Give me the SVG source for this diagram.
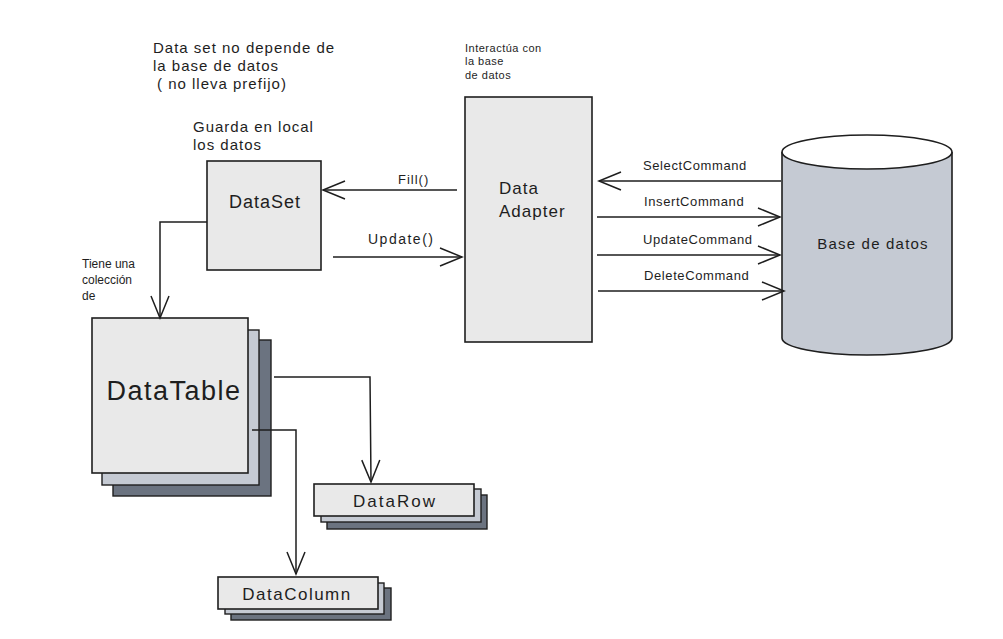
<svg xmlns="http://www.w3.org/2000/svg" width="1003" height="639" viewBox="0 0 1003 639">
<style>
.box{fill:#e9e9e9;stroke:#1e1e1e;stroke-width:1.6}
.mid{fill:#c5cad3;stroke:#1e1e1e;stroke-width:1.4}
.dark{fill:#6b7380;stroke:#1e1e1e;stroke-width:1.4}
.cyl{fill:#c5cad3;stroke:#1e1e1e;stroke-width:1.6}
.ln{fill:none;stroke:#1e1e1e;stroke-width:1.5}
text{font-family:"Liberation Sans","DejaVu Sans",sans-serif;fill:#1e1e1e}
.t15{font-size:15px;letter-spacing:1px}
.t10{font-size:11px;letter-spacing:0.5px}
.t12{font-size:12px}
.t13{font-size:13px;letter-spacing:0.6px}
.t17{font-size:17px;letter-spacing:1px}
</style>
<defs>
<marker id="arr" markerUnits="userSpaceOnUse" markerWidth="30" markerHeight="24" viewBox="-25 -12 30 24" refX="0" refY="0" orient="auto">
<path d="M-22,-9 L0,0 L-22,9" fill="none" stroke="#1e1e1e" stroke-width="1.5"/>
</marker>
</defs>
<rect width="1003" height="639" fill="#ffffff"/>

<g id="notes">
<text class="t15" x="153" y="53">Data set no depende de</text>
<text class="t15" x="153" y="71">la base de datos</text>
<text class="t15" x="157" y="89">( no lleva prefijo)</text>
<text class="t10" x="465" y="52">Interactúa con</text>
<text class="t10" x="465" y="65">la base</text>
<text class="t10" x="465" y="79">de datos</text>
<text class="t15" x="193" y="132">Guarda en local</text>
<text class="t15" x="193" y="150">los datos</text>
<text class="t12" x="82" y="268">Tiene una</text>
<text class="t12" x="82" y="284">colección</text>
<text class="t12" x="82" y="300">de</text>
</g>

<g id="dataset">
<rect class="box" x="207" y="161" width="114" height="109"/>
<text x="265" y="208" font-size="18" letter-spacing="1" text-anchor="middle">DataSet</text>
</g>

<g id="dataadapter">
<rect class="box" x="465" y="97" width="127" height="245"/>
<text class="t17" x="499" y="194">Data</text>
<text class="t17" x="499" y="217">Adapter</text>
</g>

<g id="basededatos">
<path class="cyl" d="M782,152 L782,338 A85,17 0 0 0 952,338 L952,152"/>
<ellipse cx="867" cy="152" rx="85" ry="17" fill="#ffffff" stroke="#1e1e1e" stroke-width="1.6"/>
<text x="873" y="249" font-size="15" letter-spacing="1.2" text-anchor="middle">Base de datos</text>
</g>

<g id="datatable">
<rect class="dark" x="113" y="340" width="158" height="156"/>
<rect class="mid" x="102" y="330" width="157" height="155"/>
<rect class="box" x="92" y="318" width="156" height="155"/>
<text x="174" y="400" font-size="27" letter-spacing="1.5" text-anchor="middle">DataTable</text>
</g>

<g id="datarow">
<rect class="dark" x="327" y="495" width="160" height="34"/>
<rect class="mid" x="321" y="489" width="160" height="33"/>
<rect class="box" x="314" y="484" width="160" height="32"/>
<text x="395" y="507" font-size="17" letter-spacing="2" text-anchor="middle">DataRow</text>
</g>

<g id="datacolumn">
<rect class="dark" x="231" y="588" width="160" height="32"/>
<rect class="mid" x="225" y="583" width="159" height="31"/>
<rect class="box" x="218" y="577" width="160" height="32"/>
<text x="297" y="600" font-size="17" letter-spacing="1.5" text-anchor="middle">DataColumn</text>
</g>

<g id="connectors">
<path class="ln" d="M207,222 L160,222 L160,318" marker-end="url(#arr)"/>
<path class="ln" d="M274,377 L370,377 L371,482" marker-end="url(#arr)"/>
<path class="ln" d="M252,430 L296,430 L296,574" marker-end="url(#arr)"/>
<path class="ln" d="M457,190 L323,190" marker-end="url(#arr)"/>
<path class="ln" d="M333,257 L462,257" marker-end="url(#arr)"/>
<path class="ln" d="M781,181 L599,181" marker-end="url(#arr)"/>
<path class="ln" d="M597,217 L780,217" marker-end="url(#arr)"/>
<path class="ln" d="M597,255 L780,255" marker-end="url(#arr)"/>
<path class="ln" d="M598,291 L784,291" marker-end="url(#arr)"/>
<text x="398" y="184" font-size="13" letter-spacing="1">Fill()</text>
<text x="368" y="244" font-size="14" letter-spacing="1.5">Update()</text>
<text class="t13" x="643" y="170">SelectCommand</text>
<text class="t13" x="644" y="206">InsertCommand</text>
<text class="t13" x="643" y="244">UpdateCommand</text>
<text class="t13" x="644" y="280">DeleteCommand</text>
</g>
</svg>
